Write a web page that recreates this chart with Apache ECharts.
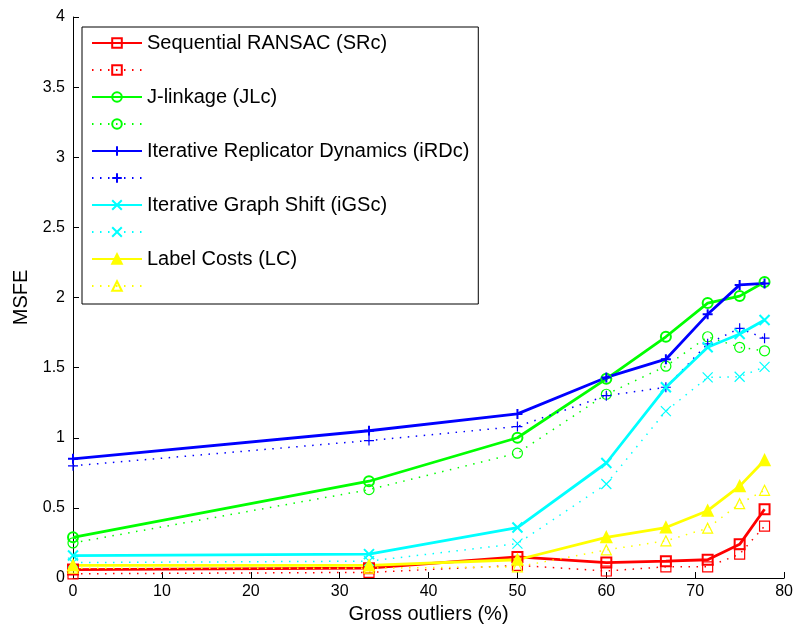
<!DOCTYPE html>
<html>
<head>
<meta charset="utf-8">
<script src="https://cdn.jsdelivr.net/npm/echarts@6/dist/echarts.min.js"></script>
<style>
  html, body { margin: 0; padding: 0; background: #fff; }
  #chart { width: 796px; height: 635px; }
</style>
</head>
<body>
<div id="chart"></div>
<script>
// Percentage of gross outliers for each experiment
const outliers = [0, 33.3, 50, 60, 66.7, 71.4, 75, 77.8];

// MSFE per method (solid = first variant, dotted = second variant)
const srcSolid  = [0.06, 0.07, 0.15, 0.11, 0.12, 0.13, 0.24, 0.49];
const srcDotted = [0.03, 0.04, 0.09, 0.05, 0.08, 0.08, 0.17, 0.37];
const jlcSolid  = [0.29, 0.69, 1.00, 1.42, 1.72, 1.96, 2.01, 2.11];
const jlcDotted = [0.25, 0.63, 0.89, 1.31, 1.51, 1.72, 1.645, 1.62];
const irdSolid  = [0.85, 1.05, 1.17, 1.43, 1.56, 1.88, 2.09, 2.10];
const irdDotted = [0.80, 0.98, 1.08, 1.30, 1.36, 1.67, 1.78, 1.71];
const igsSolid  = [0.16, 0.17, 0.36, 0.82, 1.36, 1.645, 1.74, 1.84];
const igsDotted = [0.11, 0.12, 0.245, 0.67, 1.19, 1.43, 1.435, 1.505];
const lcSolid   = [0.09, 0.09, 0.13, 0.29, 0.36, 0.48, 0.655, 0.84];
const lcDotted  = [0.07, 0.07, 0.08, 0.20, 0.265, 0.355, 0.53, 0.625];

const methodNames = [
  'Sequential RANSAC (SRc)',
  'J-linkage (JLc)',
  'Iterative Replicator Dynamics (iRDc)',
  'Iterative Graph Shift (iGSc)',
  'Label Costs (LC)'
];

const FONT = "'Liberation Sans', Arial, Helvetica, sans-serif";

const SYM = {
  square: 'path://M-1,-1L1,-1L1,1L-1,1Z',
  plus: 'path://M0,-1L0,1M-1,0L1,0',
  cross: 'path://M-1,-1L1,1M-1,1L1,-1'
};

function pairs(ys) {
  return outliers.map((x, i) => [x, ys[i]]);
}

function makeSeries(name, values, color, symbol, dotted, filled) {
  return {
    name: name,
    type: 'line',
    data: pairs(values),
    symbol: symbol,
    symbolSize: dotted ? 10 : 10,
    showAllSymbol: true,
    lineStyle: {
      color: color,
      width: dotted ? 1.5 : 2.8,
      type: dotted ? [1.5, 6.5] : 'solid'
    },
    itemStyle: {
      color: filled ? color : 'transparent',
      borderColor: color,
      borderWidth: dotted ? 1.2 : 2
    },
    emphasis: { disabled: true },
    animation: false
  };
}

const series = [
  makeSeries(methodNames[0], srcSolid, '#ff0000', SYM.square, false, false),
  makeSeries('SRc-2', srcDotted, '#ff0000', SYM.square, true, false),
  makeSeries(methodNames[1], jlcSolid, '#00ff00', 'circle', false, false),
  makeSeries('JLc-2', jlcDotted, '#00ff00', 'circle', true, false),
  makeSeries(methodNames[2], irdSolid, '#0000ff', SYM.plus, false, false),
  makeSeries('iRDc-2', irdDotted, '#0000ff', SYM.plus, true, false),
  makeSeries(methodNames[3], igsSolid, '#00ffff', SYM.cross, false, false),
  makeSeries('iGSc-2', igsDotted, '#00ffff', SYM.cross, true, false),
  makeSeries(methodNames[4], lcSolid, '#ffff00', 'triangle', false, true),
  makeSeries('LC-2', lcDotted, '#ffff00', 'triangle', true, false)
];

const chart = echarts.init(document.getElementById('chart'), null, { renderer: 'canvas' });

chart.setOption({
  animation: false,
  backgroundColor: '#ffffff',
  grid: { left: 73, right: 10, top: 17, bottom: 57 },
  legend: {
    orient: 'vertical',
    left: 82,
    top: 27,
    data: series.map(s => s.name),
    itemWidth: 50,
    itemHeight: 12,
    itemGap: 7,
    padding: [6, 9, 8, 9],
    borderColor: '#000',
    borderWidth: 1,
    backgroundColor: '#fff',
    selectedMode: false,
    formatter: function (name) {
      return methodNames.indexOf(name) >= 0 ? name : ' ';
    },
    textStyle: {
      fontFamily: FONT,
      fontSize: 20,
      lineHeight: 20,
      color: '#000',
      padding: [0, 0, 0, 0]
    }
  },
  xAxis: {
    type: 'value',
    min: 0,
    max: 80,
    interval: 10,
    name: 'Gross outliers (%)',
    nameLocation: 'middle',
    nameGap: 24,
    nameTextStyle: { fontFamily: FONT, fontSize: 20, color: '#000' },
    axisLine: { lineStyle: { color: '#000', width: 1 } },
    axisTick: { inside: true, length: 6, lineStyle: { color: '#000' } },
    axisLabel: { fontFamily: FONT, fontSize: 16, color: '#000', margin: 6 },
    splitLine: { show: false }
  },
  yAxis: {
    type: 'value',
    min: 0,
    max: 4,
    interval: 0.5,
    name: 'MSFE',
    nameLocation: 'middle',
    nameRotate: 90,
    nameGap: 37,
    nameTextStyle: { fontFamily: FONT, fontSize: 20, color: '#000' },
    axisLine: { show: true, lineStyle: { color: '#000', width: 1 } },
    axisTick: { show: true, inside: true, length: 6, lineStyle: { color: '#000' } },
    axisLabel: { fontFamily: FONT, fontSize: 16, color: '#000', margin: 8 },
    splitLine: { show: false }
  },
  series: series
});
</script>
</body>
</html>
